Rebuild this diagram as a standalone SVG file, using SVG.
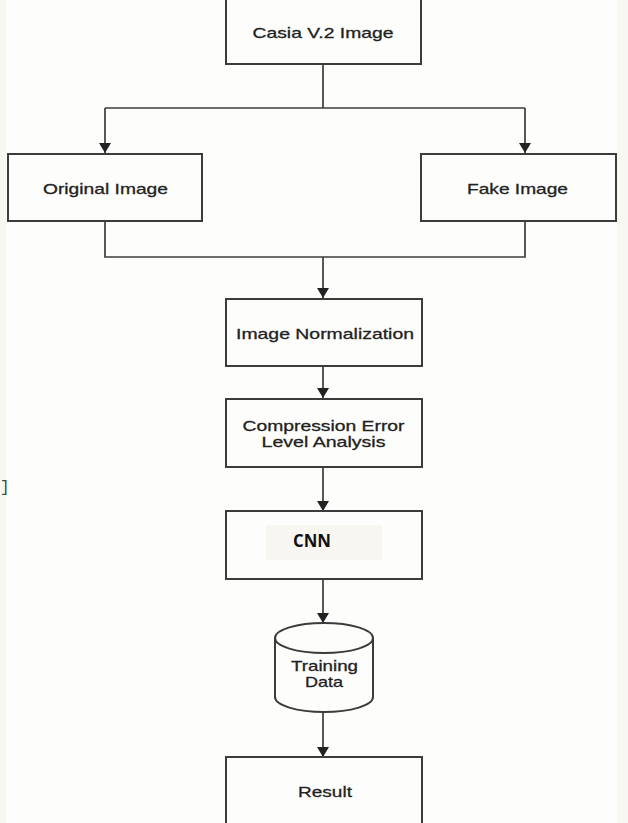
<svg xmlns="http://www.w3.org/2000/svg" width="628" height="823" viewBox="0 0 628 823">
<style>
.box{fill:none;stroke:#3c3c3c;stroke-width:2}
.ln{fill:none;stroke:#3c3c3c;stroke-width:1.7}
.t{font-family:"Liberation Sans",Arial,Helvetica,sans-serif;font-size:15px;fill:#222;text-anchor:middle;stroke:#222;stroke-width:0.3}
.cnn{font-family:"Open Sans","Liberation Sans",Arial,sans-serif;font-size:17px;font-weight:bold;fill:#111;text-anchor:middle}
</style>
<defs>
<marker id="ah" markerUnits="userSpaceOnUse" viewBox="0 0 10 12" refX="10" refY="6" markerWidth="10" markerHeight="12" orient="auto">
<path d="M0,0 L10,6 L0,12 z" fill="#222"/>
</marker>
</defs>
<rect x="0" y="0" width="628" height="823" fill="#fdfdfc"/>
<rect x="617" y="0" width="11" height="823" fill="#f9f7f2"/>
<rect x="0" y="0" width="6" height="823" fill="#f9f7f2"/>
<text x="0" y="492" font-family="Liberation Mono,monospace" font-size="16" fill="#2c4f4a">]</text>

<g id="connectors">
<path class="ln" d="M323 64 V108"/>
<path class="ln" d="M105 108 H525"/>
<path class="ln" d="M105 108 V153" marker-end="url(#ah)"/>
<path class="ln" d="M525 108 V153" marker-end="url(#ah)"/>
<path class="ln" d="M105 221 V257 H525 V221"/>
<path class="ln" d="M323 257 V298" marker-end="url(#ah)"/>
<path class="ln" d="M323 366 V398" marker-end="url(#ah)"/>
<path class="ln" d="M323 467 V511" marker-end="url(#ah)"/>
<path class="ln" d="M323 579 V623" marker-end="url(#ah)"/>
<path class="ln" d="M323 712 V757" marker-end="url(#ah)"/>
</g>

<g id="casia">
<rect class="box" x="226" y="-5" width="195" height="69"/>
<text class="t" x="323" y="38" font-size="16" textLength="141" lengthAdjust="spacingAndGlyphs">Casia V.2 Image</text>
</g>
<g id="original">
<rect class="box" x="8" y="154" width="194" height="67"/>
<text class="t" x="105.5" y="193.5" textLength="125" lengthAdjust="spacingAndGlyphs">Original Image</text>
</g>
<g id="fake">
<rect class="box" x="421" y="154" width="195" height="67"/>
<text class="t" x="517.5" y="193.5" textLength="101" lengthAdjust="spacingAndGlyphs">Fake Image</text>
</g>
<g id="normalization">
<rect class="box" x="226" y="299" width="196" height="67"/>
<text class="t" x="325" y="338.5" textLength="178" lengthAdjust="spacingAndGlyphs">Image Normalization</text>
</g>
<g id="ela">
<rect class="box" x="226" y="399" width="196" height="68"/>
<text class="t" x="323.5" y="431" font-size="14" textLength="162" lengthAdjust="spacingAndGlyphs">Compression Error</text>
<text class="t" x="323.5" y="446.5" font-size="14" textLength="124" lengthAdjust="spacingAndGlyphs">Level Analysis</text>
</g>
<g id="cnn">
<rect class="box" x="226" y="511" width="196" height="68"/>
<rect x="266" y="525" width="116" height="35" fill="#f8f6f1"/>
<text class="cnn" x="312" y="547" textLength="38" lengthAdjust="spacingAndGlyphs">CNN</text>
</g>
<g id="training">
<path class="box" d="M275 638 V697 A49 15 0 0 0 373 697 V638"/>
<ellipse class="box" cx="324" cy="638" rx="49" ry="15"/>
<text class="t" x="324.5" y="670.5" textLength="67" lengthAdjust="spacingAndGlyphs">Training</text>
<text class="t" x="324" y="686.5" textLength="38" lengthAdjust="spacingAndGlyphs">Data</text>
</g>
<g id="result">
<rect class="box" x="226" y="757" width="196" height="75"/>
<text class="t" x="325" y="796.5" textLength="54" lengthAdjust="spacingAndGlyphs">Result</text>
</g>
</svg>
